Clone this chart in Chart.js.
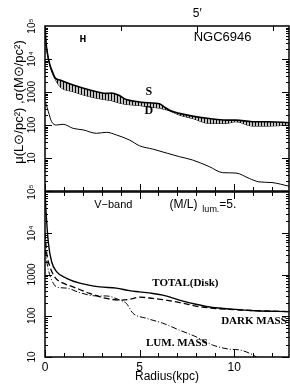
<!DOCTYPE html>
<html>
<head>
<meta charset="utf-8">
<title>NGC6946</title>
<script src="https://cdn.jsdelivr.net/npm/chart.js@4.4.1/dist/chart.umd.min.js"></script>
<style>
  html, body { margin: 0; padding: 0; background: #fff; }
  #caja { position: relative; width: 290px; height: 387px; overflow: hidden; }
  #caja canvas { position: absolute; left: 0; }
  #arriba { top: 0; }
  #abajo { top: 170px; }
</style>
</head>
<body>
<div id="caja">
  <canvas id="arriba" width="290" height="200"></canvas>
  <canvas id="abajo" width="290" height="217"></canvas>
</div>
<script>
// valores leidos a ojo de la figura (radio en kpc)
const radioS = [0, 0.05, 0.15, 0.26, 0.4, 0.53, 0.79, 1.49, 2.37, 3.25, 3.5, 3.9, 4.3, 5.0, 5.5, 6.05, 6.3, 6.58, 7.1, 7.8, 8.68, 9.56, 10.1, 10.96, 11.84, 12.9];
const sigmaS = [100000, 33000, 12600, 6600, 4000, 2700, 2300, 1620, 1150, 910, 930, 800, 590, 500, 470, 440, 355, 280, 225, 186, 158, 141, 141, 126, 126, 117];
const sigmaD = [100000, 31600, 12000, 6300, 3550, 2500, 1450, 1020, 720, 575, 550, 470, 420, 390, 350, 325, 300, 270, 200, 158, 112, 112, 126, 93, 93, 100];

const radioMu = [0, 0.05, 0.18, 0.35, 0.61, 0.96, 1.49, 2.02, 2.72, 3.25, 3.77, 4.47, 5.0, 5.7, 6.49, 7.1, 7.8, 8.68, 9.39, 10.1, 10.8, 11.3, 12.0, 12.9];
const mu = [500, 440, 251, 126, 100, 105, 79, 71, 56, 60, 50, 35, 23.4, 18.6, 13.8, 11, 8.7, 5.5, 3.6, 3.5, 2.4, 1.9, 1.8, 1.4];

const radioTotal = [0, 0.05, 0.18, 0.35, 0.61, 1.14, 1.84, 2.89, 3.77, 4.47, 5.0, 5.7, 6.23, 7.1, 7.98, 8.86, 9.91, 11.1, 12.9];
const total = [100000, 36000, 5750, 2040, 1175, 810, 617, 500, 468, 407, 380, 347, 316, 240, 190, 158, 145, 132, 126];

const radioOscura = [0, 0.09, 0.26, 0.53, 0.96, 1.49, 2.37, 3.25, 3.95, 4.47, 5.0, 5.7, 6.4, 7.3, 8.16, 9.2, 10.3, 12.9];
const oscura = [10000, 3300, 1550, 850, 617, 500, 347, 263, 240, 251, 282, 263, 240, 200, 166, 148, 138, 126];

const radioLum = [0, 0.05, 0.18, 0.35, 0.61, 1.14, 1.84, 2.72, 3.25, 3.95, 4.3, 4.65, 5.35, 6.23, 7.1, 7.98, 8.86, 9.74, 10.3, 11.0, 11.4];
const lumMasa = [4000, 2700, 1290, 740, 500, 468, 363, 302, 302, 240, 200, 115, 87, 66, 45, 31, 19.5, 15.5, 14.8, 11.2, 8.5];

const ticksY = [10, 100, 1000, 10000, 100000];
const etiquetasY = ['10', '100', '1000', '10⁴', '10⁵'];
const ticksX = [0, 5, 10];
const ticksArcmin = [4.03, 8.05, 12.08];

const pts = (xs, ys) => xs.map((x, i) => ({x, y: ys[i]}));

// relleno rayado de la banda S-D
const pc = document.createElement('canvas');
pc.width = 3; pc.height = 4;
const pctx = pc.getContext('2d');
pctx.fillStyle = '#c4c4c4'; pctx.fillRect(0, 0, 3, 4);
pctx.fillStyle = '#000'; pctx.fillRect(0, 0, 1, 4);
const rayado = document.getElementById('arriba').getContext('2d').createPattern(pc, 'repeat');

function ejeY(min) {
  return {
    type: 'logarithmic', min, max: 100000,
    grid: {display: false, drawTicks: false}, border: {display: false},
    afterBuildTicks: s => { s.ticks = ticksY.map(v => ({value: v})); },
    afterFit: s => { s.width = 45; },
    ticks: {
      minRotation: 90, maxRotation: 90, crossAlign: 'center', padding: 2,
      color: '#000', font: {family: 'Liberation Sans', size: 10},
      callback: v => { const i = ticksY.indexOf(v); return i < 0 ? '' : etiquetasY[i]; }
    }
  };
}

// marco, marcas de ejes y textos
function marco(cfg) {
  return {
    id: 'marco',
    afterDraw(chart) {
      const {ctx, chartArea: a, scales: {x, y}} = chart;
      ctx.save();
      ctx.strokeStyle = '#000';
      ctx.lineWidth = 1;
      ctx.beginPath();
      for (let d = Math.round(Math.log10(y.min)); d < 5; d++) {
        for (let k = 1; k < 10; k++) {
          const py = Math.round(y.getPixelForValue(k * 10 ** d)) + 0.5;
          const len = k === 1 ? 7 : 3;
          ctx.moveTo(a.left, py); ctx.lineTo(a.left + len, py);
          ctx.moveTo(a.right, py); ctx.lineTo(a.right - len, py);
        }
      }
      for (let r = 0; r <= 12; r++) {
        const px = Math.round(x.getPixelForValue(r)) + 0.5;
        const len = r % 5 === 0 ? 7 : 4;
        ctx.moveTo(px, a.bottom); ctx.lineTo(px, a.bottom - len);
        if (!cfg.arcmin) { ctx.moveTo(px, a.top); ctx.lineTo(px, a.top + len); }
      }
      if (cfg.arcmin) {
        cfg.arcmin.forEach((r, i) => {
          const px = Math.round(x.getPixelForValue(r)) + 0.5;
          ctx.moveTo(px, a.top); ctx.lineTo(px, a.top + (i === 1 ? 7 : 5));
        });
      }
      ctx.stroke();
      ctx.lineWidth = 1.5;
      ctx.strokeRect(a.left, a.top, a.right - a.left, a.bottom - a.top);
      ctx.fillStyle = '#000';
      ctx.textBaseline = 'middle';
      cfg.textos.forEach(t => {
        ctx.font = t.font;
        ctx.textAlign = t.align || 'center';
        ctx.fillText(t.s, x.getPixelForValue(t.r), y.getPixelForValue(t.v));
      });
      ctx.restore();
    }
  };
}

const serif = 'bold 11px "Liberation Serif"';

new Chart(document.getElementById('arriba'), {
  type: 'line',
  data: {
    datasets: [
      {data: pts(radioS, sigmaS), borderColor: '#000', borderWidth: 1.6, fill: '+1', backgroundColor: rayado},
      {data: pts(radioS, sigmaD), borderColor: '#000', borderWidth: 1, fill: false},
      {data: pts(radioMu, mu), borderColor: '#000', borderWidth: 1, fill: false}
    ]
  },
  options: {
    responsive: false, animation: false,
    layout: {padding: {top: 26, right: 1, bottom: 9, left: 0}},
    elements: {point: {radius: 0}, line: {cubicInterpolationMode: 'monotone'}},
    plugins: {legend: {display: false}, tooltip: {enabled: false}},
    scales: {
      x: {type: 'linear', min: 0, max: 12.9, display: false},
      y: Object.assign(ejeY(1), {
        // el espacio inicial sube un poco el titulo, como en el original
        title: {display: true, text: '\u2003μ(L⊙/pc²) ,σ(M⊙/pc²)', color: '#000',
                font: {family: 'Liberation Sans', size: 13}, padding: {top: 12, bottom: 0}}
      })
    }
  },
  plugins: [marco({
    arcmin: ticksArcmin,
    textos: [
      {s: '5′', r: 8.05, v: 240000, font: '12px "Liberation Sans"'},
      {s: 'NGC6946', r: 9.39, v: 43600, font: '13px "Liberation Sans"'},
      {s: 'H', r: 2.0, v: 38000, font: 'bold 9px "DejaVu Sans Condensed"'},
      {s: 'S', r: 5.49, v: 1000, font: 'bold 12px "Liberation Serif"'},
      {s: 'D', r: 5.49, v: 263, font: 'bold 12px "Liberation Serif"'}
    ]
  })]
});

new Chart(document.getElementById('abajo'), {
  type: 'line',
  data: {
    datasets: [
      {data: pts(radioTotal, total), borderColor: '#000', borderWidth: 1.4, fill: false},
      {data: pts(radioOscura, oscura), borderColor: '#000', borderWidth: 1.3, borderDash: [6, 3], fill: false},
      {data: pts(radioLum, lumMasa), borderColor: '#000', borderWidth: 1, borderDash: [6, 2, 1, 2], fill: false}
    ]
  },
  options: {
    responsive: false, animation: false,
    layout: {padding: {top: 22, right: 1, bottom: 0, left: 0}},
    elements: {point: {radius: 0}, line: {cubicInterpolationMode: 'monotone'}},
    plugins: {legend: {display: false}, tooltip: {enabled: false}},
    scales: {
      x: {
        type: 'linear', min: 0, max: 12.9,
        grid: {display: false, drawTicks: false}, border: {display: false},
        afterBuildTicks: s => { s.ticks = ticksX.map(v => ({value: v})); },
        afterFit: s => { s.height = 30; },
        ticks: {padding: 3, maxRotation: 0, color: '#000', font: {family: 'Liberation Sans', size: 12}},
        title: {display: true, text: 'Radius(kpc)', color: '#000',
                font: {family: 'Liberation Sans', size: 12}, padding: {top: 0, bottom: 3}}
      },
      y: ejeY(10)
    }
  },
  plugins: [marco({
    textos: [
      {s: 'V−band', r: 2.6, v: 48400, font: '11px "Liberation Sans"', align: 'left'},
      {s: '(M/L)', r: 6.58, v: 48400, font: '12px "Liberation Sans"', align: 'left'},
      {s: 'lum.', r: 8.32, v: 36600, font: '9px "Liberation Sans"', align: 'left'},
      {s: '=5.', r: 9.21, v: 48400, font: '12px "Liberation Sans"', align: 'left'},
      {s: 'TOTAL(Disk)', r: 7.42, v: 617, font: serif},
      {s: 'DARK MASS', r: 11.05, v: 74.6, font: serif},
      {s: 'LUM. MASS', r: 6.97, v: 21.9, font: serif}
    ]
  })]
});
</script>
</body>
</html>
